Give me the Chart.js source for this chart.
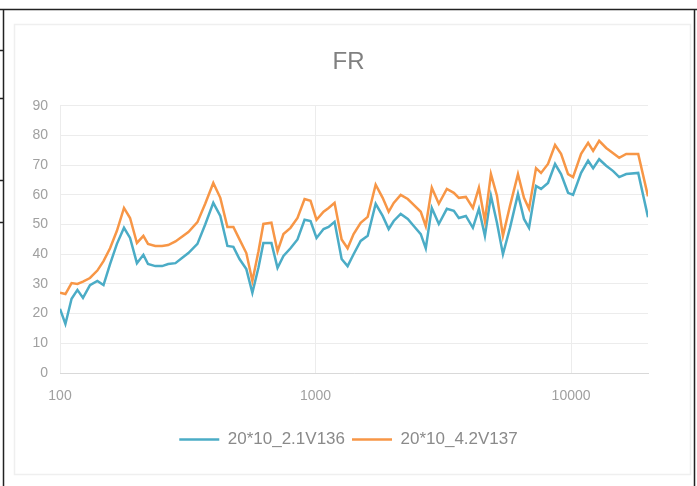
<!DOCTYPE html>
<html lang="en">
<head>
<meta charset="UTF-8">
<title>FR</title>
<script src="https://cdn.jsdelivr.net/npm/chart.js"></script>
<style>
    html, body { margin: 0; padding: 0; background: #fff; }
    canvas { display: block; }
</style>
</head>
<body>
<canvas id="fr-chart" width="697" height="486"></canvas>
<script>
// frequency points (Hz)
const freqs = [
    100, 105, 111, 117, 123, 131, 140, 148, 157, 167,
    178, 188, 200, 212, 221, 236, 251, 265, 283, 301,
    318, 345, 370, 398, 424, 452, 477, 504, 536, 566,
    598, 625, 672, 710, 749, 798, 850, 906, 956, 1009,
    1075, 1125, 1187, 1265, 1335, 1409, 1502, 1600, 1719, 1831,
    1933, 2023, 2154, 2296, 2423, 2581, 2700, 2851, 3037, 3264,
    3477, 3637, 3875, 4128, 4358, 4600, 4857, 5128, 5412, 5767,
    6197, 6542, 6845, 7292, 7629, 8123, 8656, 9137, 9732, 10181,
    10945, 11659, 12198, 12879, 13720, 14613, 15428, 16436, 18312, 20000
];

// 20*10_2.1V136
const series136 = [
    21.6, 16.5, 25, 28, 25.3, 29.6, 31, 29.6, 36.7, 43.5,
    48.9, 45.5, 37, 39.8, 36.7, 36, 36, 36.7, 37, 38.8,
    40.4, 43.5, 50, 57.3, 52.9, 42.8, 42.5, 38.4, 35, 27,
    35.5, 43.8, 43.8, 35.4, 39.4, 42, 45, 51.6, 51.2, 45.5,
    48.5, 49.2, 50.9, 38.4, 36, 40, 44.5, 46.2, 57, 52.9,
    48.5, 51.2, 53.6, 51.9, 49.5, 46.8, 42, 55.6, 50.2, 55.3,
    54.6, 52.2, 52.9, 48.9, 55.3, 46.2, 59.7, 50.6, 40, 48.9,
    60.3, 51.9, 48.9, 63, 62, 64, 70.4, 67, 60.7, 60,
    67.4, 71.5, 69, 72, 69.8, 68, 66, 67, 67.4, 52.5
];

// 20*10_4.2V137
const series137 = [
    27, 26.6, 30.3, 30, 30.8, 32, 34.5, 37.7, 42, 47.9,
    55.6, 52.2, 43.8, 46.2, 43.5, 42.8, 42.8, 43.1, 44.3, 46,
    47.5, 50.8, 57, 64, 59, 49.2, 49.2, 45, 40.4, 31,
    41, 50.2, 50.6, 41, 46.8, 48.9, 52.2, 58.6, 58, 51.6,
    54.3, 55.6, 57.3, 45, 42, 46.8, 50.6, 52.6, 63.4, 59,
    54.3, 57.3, 60, 58.6, 56.6, 54.3, 49.5, 62.4, 57, 62,
    60.7, 59, 59.3, 55.6, 62.4, 51.2, 67, 59.7, 46.2, 56.3,
    67, 59, 55.3, 69, 67.4, 70.4, 76.8, 73.8, 67, 66,
    73.8, 77.5, 74.8, 78.2, 75.8, 74, 72.5, 73.8, 73.8, 59.5
];

const seriesNames = ['20*10_2.1V136', '20*10_4.2V137'];
const xTicks = [100, 1000, 10000];

const FONT = "'Liberation Sans', Arial, sans-serif";

// white background, black outer frame and faint inner border
const framePlugin = {
    id: 'frame',
    beforeDraw(chart) {
        const c = chart.ctx;
        c.save();
        c.fillStyle = '#fff';
        c.fillRect(0, 0, chart.width, chart.height);
        c.strokeStyle = '#efefef';
        c.lineWidth = 1.5;
        c.strokeRect(14.5, 24.5, 676, 450);
        c.strokeStyle = '#222';
        c.lineWidth = 1.5;
        c.beginPath();
        c.moveTo(0, 9.5); c.lineTo(697, 9.5);
        c.moveTo(3.5, 9); c.lineTo(3.5, 486);
        c.moveTo(694.5, 9); c.lineTo(694.5, 486);
        [50, 98, 180, 222].forEach(y => { c.moveTo(0, y + 0.5); c.lineTo(4, y + 0.5); });
        c.stroke();
        c.restore();
    }
};

const ctx = document.getElementById('fr-chart').getContext('2d');
new Chart(ctx, {
    type: 'line',
    data: {
        datasets: [
            {
                label: seriesNames[0],
                data: freqs.map((f, i) => ({ x: f, y: series136[i] })),
                borderColor: '#4bacc6',
                backgroundColor: '#4bacc6',
                borderWidth: 2.5,
                pointRadius: 0,
                tension: 0,
                fill: false,
                order: 1
            },
            {
                label: seriesNames[1],
                data: freqs.map((f, i) => ({ x: f, y: series137[i] })),
                borderColor: '#f79646',
                backgroundColor: '#f79646',
                borderWidth: 2.5,
                pointRadius: 0,
                tension: 0,
                fill: false,
                order: 0
            }
        ]
    },
    options: {
        responsive: false,
        animation: false,
        devicePixelRatio: 1,
        layout: { padding: { left: 0, right: 0, top: 0, bottom: 28 } },
        plugins: {
            title: {
                display: true,
                text: 'FR',
                color: '#808080',
                font: { family: FONT, size: 24, weight: 'normal' },
                padding: { top: 48, bottom: 29 }
            },
            legend: {
                position: 'bottom',
                labels: {
                    usePointStyle: true,
                    pointStyle: 'line',
                    pointStyleWidth: 40,
                    color: '#8a8a8a',
                    font: { family: FONT, size: 17 },
                    padding: 7,
                    sort: (a, b) => a.datasetIndex - b.datasetIndex
                }
            },
            tooltip: { enabled: false }
        },
        scales: {
            x: {
                type: 'logarithmic',
                min: 100,
                max: 20000,
                afterBuildTicks: s => { s.ticks = xTicks.map(v => ({ value: v })); },
                afterFit: s => { s.height = 51; },
                ticks: {
                    autoSkip: false,
                    maxRotation: 0,
                    padding: 15,
                    color: '#a0a0a0',
                    font: { family: FONT, size: 14 },
                    callback: v => String(v)
                },
                grid: { color: '#ececec', drawTicks: false },
                border: { color: '#d9d9d9' }
            },
            y: {
                min: 0,
                max: 90,
                afterFit: s => { s.width = 60; },
                ticks: {
                    stepSize: 10,
                    padding: 12,
                    color: '#a0a0a0',
                    font: { family: FONT, size: 14 }
                },
                grid: { color: '#ececec', drawTicks: false },
                border: { display: false }
            },
            // empty right-hand spacer so the plot ends where the reference's does
            yRight: {
                position: 'right',
                min: 0,
                max: 90,
                afterFit: s => { s.width = 49; },
                ticks: { display: false },
                grid: { display: false, drawTicks: false },
                border: { display: false }
            }
        }
    },
    plugins: [framePlugin]
});
</script>
</body>
</html>
